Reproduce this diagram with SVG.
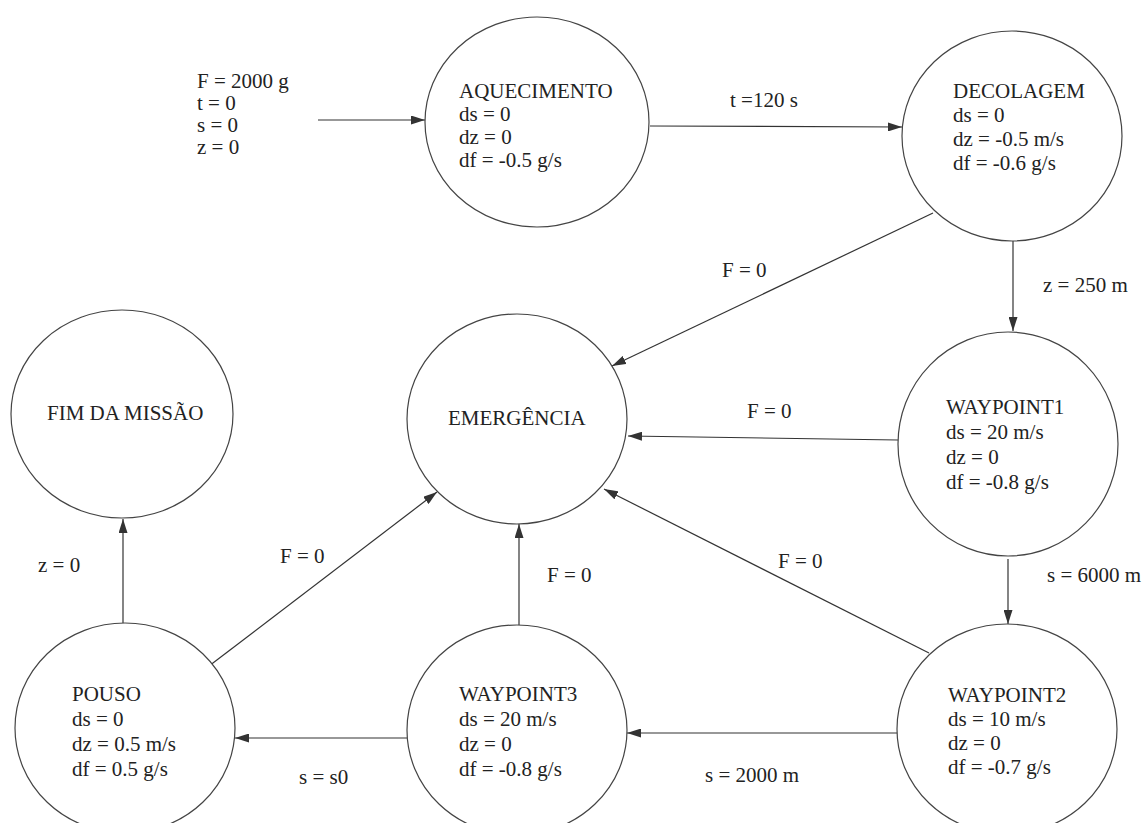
<svg xmlns="http://www.w3.org/2000/svg" width="1146" height="823" viewBox="0 0 1146 823">
<style>
.n{fill:#fff;stroke:#444;stroke-width:1.2}
.t{font-family:'Liberation Serif','Times New Roman','DejaVu Serif',serif;font-size:21px;fill:#222}
.c{fill:none;stroke:#333;stroke-width:1.2}
</style>
<defs>
<marker id="ah" viewBox="0 0 14 9" refX="14" refY="4.5" markerWidth="14" markerHeight="9" orient="auto" markerUnits="userSpaceOnUse"><path d="M0,0 L14,4.5 L0,9 z" fill="#333"/></marker>
</defs>
<rect width="1146" height="823" fill="#fff"/>
<g id="connectors">
<line class="c" x1="318" y1="120" x2="425" y2="120" marker-end="url(#ah)"/>
<line class="c" x1="650" y1="126" x2="902" y2="127" marker-end="url(#ah)"/>
<line class="c" x1="933" y1="213" x2="612" y2="366" marker-end="url(#ah)"/>
<line class="c" x1="1013" y1="241" x2="1013" y2="331" marker-end="url(#ah)"/>
<line class="c" x1="898" y1="440" x2="628" y2="436" marker-end="url(#ah)"/>
<line class="c" x1="1008" y1="559" x2="1008" y2="624" marker-end="url(#ah)"/>
<line class="c" x1="929" y1="653" x2="604" y2="489" marker-end="url(#ah)"/>
<line class="c" x1="897" y1="733" x2="627" y2="733" marker-end="url(#ah)"/>
<line class="c" x1="519" y1="625" x2="519" y2="524" marker-end="url(#ah)"/>
<line class="c" x1="407" y1="738" x2="235" y2="738" marker-end="url(#ah)"/>
<line class="c" x1="209" y1="666" x2="437" y2="492" marker-end="url(#ah)"/>
<line class="c" x1="123" y1="623" x2="123" y2="519" marker-end="url(#ah)"/>
<text class="t" x="730" y="107">t =120 s</text>
<text class="t" x="722" y="277">F = 0</text>
<text class="t" x="1043" y="292">z = 250 m</text>
<text class="t" x="747" y="418">F = 0</text>
<text class="t" x="1047" y="582">s = 6000 m</text>
<text class="t" x="778" y="568">F = 0</text>
<text class="t" x="547" y="582">F = 0</text>
<text class="t" x="280" y="563">F = 0</text>
<text class="t" x="38" y="572">z = 0</text>
<text class="t" x="299" y="784">s = s0</text>
<text class="t" x="705" y="782">s = 2000 m</text>
</g>
<g id="init">
<text class="t" x="197" y="88">F = 2000 g</text>
<text class="t" x="197" y="110">t = 0</text>
<text class="t" x="197" y="132">s = 0</text>
<text class="t" x="197" y="154">z = 0</text>
</g>
<g id="aquecimento">
<ellipse class="n" cx="537" cy="122" rx="112" ry="105"/>
<text class="t" x="459" y="98">AQUECIMENTO</text>
<text class="t" x="459" y="121">ds = 0</text>
<text class="t" x="459" y="144">dz = 0</text>
<text class="t" x="459" y="167">df = -0.5 g/s</text>
</g>
<g id="decolagem">
<ellipse class="n" cx="1012" cy="136" rx="110" ry="105"/>
<text class="t" x="953" y="98">DECOLAGEM</text>
<text class="t" x="953" y="122">ds = 0</text>
<text class="t" x="953" y="146">dz = -0.5 m/s</text>
<text class="t" x="953" y="170">df = -0.6 g/s</text>
</g>
<g id="emergencia">
<ellipse class="n" cx="517" cy="419" rx="110" ry="105"/>
<text class="t" x="448" y="425">EMERGÊNCIA</text>
</g>
<g id="fim">
<ellipse class="n" cx="122" cy="414" rx="111" ry="104"/>
<text class="t" x="47" y="420">FIM DA MISSÃO</text>
</g>
<g id="waypoint1">
<ellipse class="n" cx="1008" cy="444" rx="110" ry="112"/>
<text class="t" x="946" y="414">WAYPOINT1</text>
<text class="t" x="946" y="439">ds = 20 m/s</text>
<text class="t" x="946" y="464">dz = 0</text>
<text class="t" x="946" y="489">df = -0.8 g/s</text>
</g>
<g id="waypoint2">
<ellipse class="n" cx="1007" cy="729" rx="110" ry="105"/>
<text class="t" x="948" y="702">WAYPOINT2</text>
<text class="t" x="948" y="726">ds = 10 m/s</text>
<text class="t" x="948" y="750">dz = 0</text>
<text class="t" x="948" y="774">df = -0.7 g/s</text>
</g>
<g id="waypoint3">
<ellipse class="n" cx="517" cy="730" rx="110" ry="105"/>
<text class="t" x="459" y="701">WAYPOINT3</text>
<text class="t" x="459" y="726">ds = 20 m/s</text>
<text class="t" x="459" y="751">dz = 0</text>
<text class="t" x="459" y="776">df = -0.8 g/s</text>
</g>
<g id="pouso">
<ellipse class="n" cx="125" cy="728" rx="110" ry="105"/>
<text class="t" x="72" y="701">POUSO</text>
<text class="t" x="72" y="726">ds = 0</text>
<text class="t" x="72" y="751">dz = 0.5 m/s</text>
<text class="t" x="72" y="776">df = 0.5 g/s</text>
</g>
</svg>
